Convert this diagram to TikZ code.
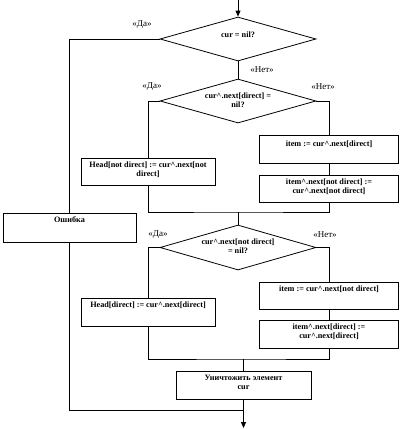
\documentclass[tikz,border=0pt]{standalone}
\usepackage{fontspec}
\setmainfont{Liberation Serif}
\usetikzlibrary{shapes.geometric,arrows.meta}
\tikzset{
  line/.style={draw=black,line width=0.8pt},
  arr/.style={line,-{Triangle[length=6pt,width=5pt]}},
  dec/.style={diamond,draw=black,line width=0.8pt,inner sep=0pt,minimum width=156pt,minimum height=44pt},
  dectext/.style={inner sep=0pt,font=\bfseries\fontsize{8.2}{9}\selectfont,align=center},
  box/.style={rectangle,draw=black,line width=0.8pt,inner sep=0pt},
  boxtext/.style={anchor=north,inner sep=0pt,yshift=-4pt,font=\bfseries\fontsize{8.2}{9}\selectfont,align=center},
  lbl/.style={font=\fontsize{9}{10}\selectfont,inner sep=0pt}
}
\begin{document}
\begin{tikzpicture}[x=1pt,y=-1pt]
\useasboundingbox (0,0) rectangle (400,429);
% decisions
\node[dec,label={[dectext,yshift=4pt]center:cur = nil?}] (d1) at (238,39) {};
\node[dec,label={[dectext,yshift=1pt]center:cur\^{}.next[direct] =\\nil?}] (d2) at (238,101) {};
\node[dec,minimum height=45pt,label={[dectext,yshift=1pt]center:cur\^{}.next[not direct]\\= nil?}] (d3) at (238,247.5) {};
% boxes
\node[box,minimum width=133pt,minimum height=29pt,label={[boxtext]north:Ошибка}] (err) at (69.5,227.5) {};
\node[box,minimum width=134pt,minimum height=27pt,label={[boxtext]north:Head[not direct] := cur\^{}.next[not\\direct]}] (hnd) at (148,171.5) {};
\node[box,minimum width=139pt,minimum height=28pt,label={[boxtext,yshift=-2pt]north:item := cur\^{}.next[direct]}] (i1) at (329,149) {};
\node[box,minimum width=139pt,minimum height=27pt,label={[boxtext]north:item\^{}.next[not direct] :=\\cur\^{}.next[not direct]}] (i2) at (329,188.5) {};
\node[box,minimum width=134pt,minimum height=28pt,label={[boxtext]north:Head[direct] := cur\^{}.next[direct]}] (hd) at (148,312) {};
\node[box,minimum width=139pt,minimum height=27pt,label={[boxtext]north:item := cur\^{}.next[not direct]}] (i3) at (329,295.5) {};
\node[box,minimum width=139pt,minimum height=28pt,label={[boxtext]north:item\^{}.next[direct] :=\\cur\^{}.next[direct]}] (i4) at (329,334) {};
\node[box,minimum width=135pt,minimum height=28pt,label={[boxtext]north:Уничтожить элемент\\cur}] (kill) at (243.5,385) {};
% helper coordinates
\coordinate (start) at (238,0);
\coordinate (m1) at (238,212);
\coordinate (m2) at (243.5,359);
\coordinate (j) at (243.5,410);
\coordinate (end) at (243.5,428);
% connectors
\draw[arr] (start) -- (d1.north);
\draw[line] (d1.west) -| (err.north);
\draw[line] (err.south) |- (j);
\draw[line] (d1.south) -- (d2.north);
\draw[line] (d2.west) -| (hnd.north);
\draw[line] (d2.east) -| (i1.north);
\draw[line] (i1.south) -- (i2.north);
\draw[line] (hnd.south) |- (m1) -| (i2.south);
\draw[line] (m1) -- (d3.north);
\draw[line] (d3.west) -| (hd.north);
\draw[line] (d3.east) -| (i3.north);
\draw[line] (i3.south) -- (i4.north);
\draw[line] (hd.south) |- (m2) -| (i4.south);
\draw[line] (m2) -- (kill.north);
\draw[arr] (kill.south) -- (end);
% labels
\node[lbl] (l1) at (142,25) {«Да»};
\node[lbl] (l2) at (262,70) {«Нет»};
\node[lbl] (l3) at (152,87) {«Да»};
\node[lbl] (l4) at (323,87) {«Нет»};
\node[lbl] (l5) at (158,235) {«Да»};
\node[lbl] (l6) at (325,235) {«Нет»};
\end{tikzpicture}
\end{document}
